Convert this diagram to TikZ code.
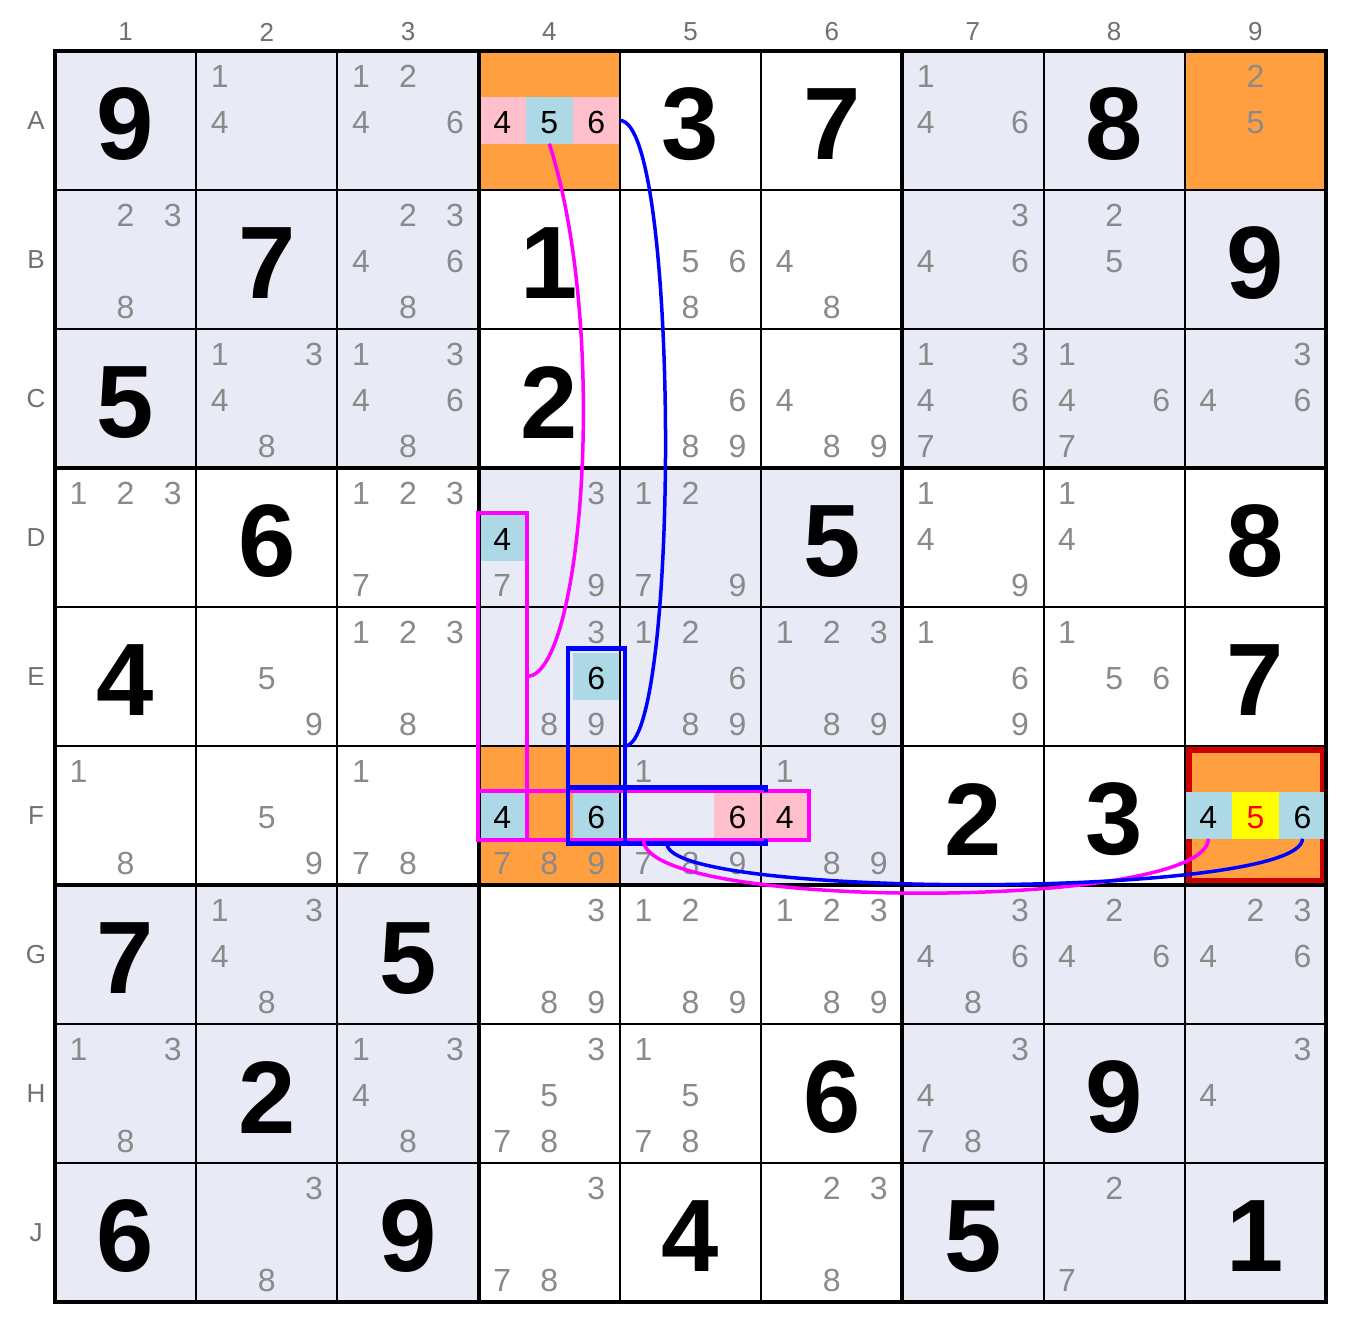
\documentclass[tikz,border=0pt]{standalone}
\usepackage{fontspec}
\setmainfont{Liberation Sans}
\usetikzlibrary{calc,fit}

\definecolor{boxshade}{HTML}{E8EAF6}
\definecolor{hlorange}{HTML}{FF9F40}
\definecolor{hlpink}{HTML}{FFC0CB}
\definecolor{hlblue}{HTML}{ADD8E6}
\definecolor{hlyellow}{HTML}{FFFF00}
\definecolor{candgrey}{HTML}{8A8A8A}
\definecolor{labelgrey}{HTML}{707070}
\definecolor{framered}{HTML}{CC0000}
\definecolor{textred}{HTML}{FF0000}
\definecolor{linkmag}{HTML}{FF00FF}
\definecolor{linkblue}{HTML}{0000FF}

\newcommand\sdkhl[5]{%
  \pgfmathsetmacro\hx{55+(#3-1)*141.2222+(mod(#4-1,3)+0.5)*47.0741}%
  \pgfmathsetmacro\hy{51+(#2-1)*139+(int((#4-1)/3)+0.5)*46.3333}%
  \node[hl,fill=#5] (#1) at (\hx,\hy) {};}
\newcommand\sdkhltxt[3]{\node[hltext,text=#3] (#1-t) at ($(#1)+(0,2)$) {#2};}

\begin{document}
\begin{tikzpicture}[x=1pt,y=-1pt,
  cand/.style={font=\fontsize{32}{32}\selectfont, text=candgrey, inner sep=0pt},
  given/.style={font=\fontsize{103}{103}\selectfont\bfseries, text=black, inner sep=0pt},
  hltext/.style={font=\fontsize{32}{32}\selectfont, inner sep=0pt},
  lbl/.style={font=\fontsize{26}{26}\selectfont, text=labelgrey, inner sep=0pt},
  hl/.style={minimum width=47.0741pt, minimum height=46.3333pt, inner sep=0pt, outer sep=0pt},
  magbox/.style={draw=linkmag, line width=4pt, inner sep=1pt, outer sep=0pt},
  bluefit/.style={inner sep=5pt, outer sep=0pt},
  bluebox/.style={draw=linkblue, line width=4.5pt},
  magcurve/.style={draw=linkmag, line width=3.5pt},
  bluecurve/.style={draw=linkblue, line width=3.5pt},
  thinline/.style={line width=2pt},
  thickline/.style={line width=4pt},
  redframe/.style={draw=framered, line width=6.5pt}]

\useasboundingbox (0,0) rectangle (1347,1317);
\fill[white] (0,0) rectangle (1347,1317);

% box shading
\foreach \r in {1,...,9}{
  \foreach \c in {1,...,9}{
    \pgfmathtruncatemacro\bb{mod(int((\r-1)/3)+int((\c-1)/3),2)}
    \ifnum\bb=0
      \fill[boxshade] ({55+(\c-1)*141.2222},{51+(\r-1)*139}) rectangle ++(141.2222,139);
    \fi
  }
}
% orange cells
\foreach \r/\c in {1/4,1/9,6/4,6/9}
  \fill[hlorange] ({55+(\c-1)*141.2222},{51+(\r-1)*139}) rectangle ++(141.2222,139);

% red frame of F9
\draw[redframe] (1188.3,749.3) rectangle (1322.9,881.7);

% highlighted candidates
\sdkhl{A4-4}{1}{4}{4}{hlpink}
\sdkhl{A4-5}{1}{4}{5}{hlblue}
\sdkhl{A4-6}{1}{4}{6}{hlpink}
\sdkhl{D4-4}{4}{4}{4}{hlblue}
\sdkhl{E4-6}{5}{4}{6}{hlblue}
\sdkhl{F4-4}{6}{4}{4}{hlblue}
\sdkhl{F4-6}{6}{4}{6}{hlblue}
\sdkhl{F5-6}{6}{5}{6}{hlpink}
\sdkhl{F6-4}{6}{6}{4}{hlpink}
\sdkhl{F9-4}{6}{9}{4}{hlblue}
\sdkhl{F9-5}{6}{9}{5}{hlyellow}
\sdkhl{F9-6}{6}{9}{6}{hlblue}

\sdkhltxt{A4-4}{4}{black}
\sdkhltxt{A4-5}{5}{black}
\sdkhltxt{A4-6}{6}{black}
\sdkhltxt{D4-4}{4}{black}
\sdkhltxt{E4-6}{6}{black}
\sdkhltxt{F4-4}{4}{black}
\sdkhltxt{F4-6}{6}{black}
\sdkhltxt{F5-6}{6}{black}
\sdkhltxt{F6-4}{4}{black}
\sdkhltxt{F9-4}{4}{black}
\sdkhltxt{F9-5}{5}{textred}
\sdkhltxt{F9-6}{6}{black}

% candidates
\foreach \r/\c/\ds in {
1/2/{1,4}, 1/3/{1,2,4,6}, 1/7/{1,4,6}, 1/9/{2,5},
2/1/{2,3,8}, 2/3/{2,3,4,6,8}, 2/5/{5,6,8}, 2/6/{4,8}, 2/7/{3,4,6}, 2/8/{2,5},
3/2/{1,3,4,8}, 3/3/{1,3,4,6,8}, 3/5/{6,8,9}, 3/6/{4,8,9}, 3/7/{1,3,4,6,7}, 3/8/{1,4,6,7}, 3/9/{3,4,6},
4/1/{1,2,3}, 4/3/{1,2,3,7}, 4/4/{3,7,9}, 4/5/{1,2,7,9}, 4/7/{1,4,9}, 4/8/{1,4},
5/2/{5,9}, 5/3/{1,2,3,8}, 5/4/{3,8,9}, 5/5/{1,2,6,8,9}, 5/6/{1,2,3,8,9}, 5/7/{1,6,9}, 5/8/{1,5,6},
6/1/{1,8}, 6/2/{5,9}, 6/3/{1,7,8}, 6/4/{7,8,9}, 6/5/{1,7,8,9}, 6/6/{1,8,9},
7/2/{1,3,4,8}, 7/4/{3,8,9}, 7/5/{1,2,8,9}, 7/6/{1,2,3,8,9}, 7/7/{3,4,6,8}, 7/8/{2,4,6}, 7/9/{2,3,4,6},
8/1/{1,3,8}, 8/3/{1,3,4,8}, 8/4/{3,5,7,8}, 8/5/{1,5,7,8}, 8/7/{3,4,7,8}, 8/9/{3,4},
9/2/{3,8}, 9/4/{3,7,8}, 9/6/{2,3,8}, 9/8/{2,7}}{
  \foreach \d in \ds {
    \pgfmathsetmacro\kx{55+(\c-1)*141.2222+(mod(\d-1,3)+0.5)*47.0741}
    \pgfmathsetmacro\ky{51+(\r-1)*139+(int((\d-1)/3)+0.5)*46.3333+2}
    \node[cand] (k\r\c\d) at (\kx,\ky) {\d};
  }
}

% givens
\foreach \r/\c/\d in {1/1/9,1/5/3,1/6/7,1/8/8,
  2/2/7,2/4/1,2/9/9, 3/1/5,3/4/2, 4/2/6,4/6/5,4/9/8, 5/1/4,5/9/7,
  6/7/2,6/8/3, 7/1/7,7/3/5, 8/2/2,8/6/6,8/8/9, 9/1/6,9/3/9,9/5/4,9/7/5,9/9/1}
  \node[given] (g\r\c) at ({55+(\c-1)*141.2222+70.6111},{51+(\r-1)*139+73.5}) {\d};

% labels
\foreach \c in {1,...,9}
  \node[lbl] (col\c) at ({55+(\c-1)*141.2222+70.6111},32) {\c};
\foreach \r/\L in {1/A,2/B,3/C,4/D,5/E,6/F,7/G,8/H,9/J}
  \node[lbl] (row\L) at (36,{51+(\r-1)*139+69.5}) {\L};

% grid
\foreach \i in {1,2,4,5,7,8}{
  \draw[thinline] ({55+\i*141.2222},51) -- ({55+\i*141.2222},1302);
  \draw[thinline] (55,{51+\i*139}) -- (1326,{51+\i*139});
}
\foreach \i in {3,6}{
  \draw[thickline] ({55+\i*141.2222},51) -- ({55+\i*141.2222},1302);
  \draw[thickline] (55,{51+\i*139}) -- (1326,{51+\i*139});
}
\draw[thickline] (55,51) rectangle (1326,1302);

% group boxes
\node[magbox, fit=(D4-4)(F4-4)] (mv) {};
\node[magbox, fit=(F4-4)(F6-4)] (mh) {};
\node[bluefit, draw=linkblue, line width=4.5pt, fit=(E4-6)(F4-6)] (bv) {};
\node[bluefit, fit=(F4-6)(F5-6)] (bh) {};
\draw[bluebox] ($(bh.north east)+(0,5)$) -- (bh.north east) -- (bh.north west)
  -- (bh.south west) -- (bh.south east) -- ($(bh.south east)+(0,-5)$);

% links
\draw[magcurve] (A4-5.south) .. controls ($(A4-5.south)+(60,186)$) and ($(mv.east)+(56,0)$) .. (mv.east);
\draw[magcurve] (F9-4.south) .. controls ($(F9-4.south)+(0,72)$) and ($(mh.south)+(0,72)$) .. (mh.south);
\draw[bluecurve] (A4-6.east) .. controls ($(A4-6.east)+(60,0)$) and ($(bv.east)+(55,0)$) .. (bv.east);
\draw[bluecurve] (F9-6.south) .. controls ($(F9-6.south)+(0,60)$) and ($(bh.south)+(0,56)$) .. (bh.south);
\end{tikzpicture}
\end{document}
